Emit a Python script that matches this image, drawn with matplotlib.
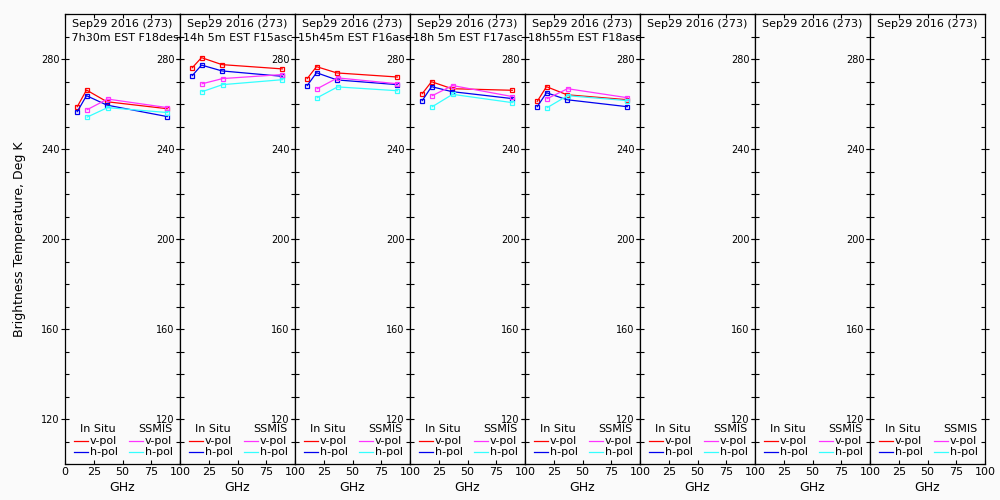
import matplotlib
matplotlib.use("Agg")
import matplotlib.pyplot as plt
from matplotlib.ticker import MultipleLocator

# ---- data ----
date_label = "Sep29 2016 (273)"
pass_labels = [" 7h30m EST F18desc", "14h 5m EST F15asc", "15h45m EST F16asc",
               "18h 5m EST F17asc", "18h55m EST F18asc", "", "", ""]
insitu_freq = [10.65, 18.7, 36.5, 89.0]
ssmis_freq = [19.35, 37.0, 89.0]

insitu_v = [
    [258.8, 266.2, 261.0, 257.9],
    [276.1, 280.6, 277.5, 275.6],
    [271.3, 276.6, 273.8, 272.0],
    [264.6, 269.9, 266.8, 266.1],
    [261.2, 267.7, 264.1, 261.9],
]
insitu_h = [
    [256.6, 263.7, 259.5, 254.4],
    [272.6, 277.3, 274.7, 272.3],
    [268.2, 273.9, 270.7, 268.6],
    [261.5, 267.7, 265.5, 262.4],
    [258.8, 265.0, 261.9, 258.8],
]
ssmis_v = [
    [257.5, 262.2, 258.4],
    [269.0, 271.3, 273.1],
    [266.8, 271.6, 269.0],
    [263.7, 268.2, 263.3],
    [262.4, 266.8, 262.8],
]
ssmis_h = [
    [254.2, 258.4, 256.2],
    [265.5, 268.6, 270.8],
    [262.8, 267.6, 265.9],
    [258.8, 264.3, 260.6],
    [258.4, 263.7, 261.5],
]
x_ticks = [0, 25, 50, 75, 100]
y_ticks = [120, 160, 200, 240, 280]

# ---- style ----
C_RED, C_BLUE, C_MAG, C_CYAN = "#ff0000", "#0000ee", "#ff33ff", "#33ffff"
BG = "#fafafa"
plt.rcParams['font.family'] = ['DejaVu Sans']

fig = plt.figure(figsize=(10, 5), dpi=100, facecolor=BG)
n_panels = 8
left0, pw = 0.065, 0.115
bottom, ph = 0.072, 0.9

for i in range(n_panels):
    ax = fig.add_axes([left0 + i * pw, bottom, pw, ph], facecolor=BG)
    ax.set_xlim(0, 100)
    ax.set_ylim(100, 300)
    for s in ax.spines.values():
        s.set_linewidth(0.9)
        s.set_color("black")
    ax.set_xticks(x_ticks)
    # the leading "0" coincides with the previous panel's "100"
    xlabels = [str(t) for t in x_ticks]
    if i > 0:
        xlabels[0] = ""
    ax.set_xticklabels(xlabels)
    ax.set_yticks(y_ticks)
    ax.yaxis.set_minor_locator(MultipleLocator(10))
    ax.tick_params(axis='y', which='major', direction='inout', length=6, width=0.8,
                   left=True, right=True, labelsize=7, pad=1)
    ax.tick_params(axis='y', which='minor', direction='in', length=3, width=0.8,
                   left=True, right=True)
    ax.tick_params(axis='x', which='major', direction='in', length=3, width=0.8,
                   top=True, bottom=True, labelsize=8, pad=2)
    ax.set_xlabel("GHz", fontsize=9, labelpad=3)

    if i < len(insitu_v):
        lw, ms, mew = 0.9, 3.2, 0.9
        ax.plot(insitu_freq, insitu_v[i], color=C_RED, lw=lw, marker='s', ms=ms,
                mfc='none', mew=mew)
        ax.plot(insitu_freq, insitu_h[i], color=C_BLUE, lw=lw, marker='s', ms=ms,
                mfc='none', mew=mew)
        ax.plot(ssmis_freq, ssmis_v[i], color=C_MAG, lw=lw, marker='s', ms=ms,
                mfc='none', mew=mew)
        ax.plot(ssmis_freq, ssmis_h[i], color=C_CYAN, lw=lw, marker='s', ms=ms,
                mfc='none', mew=mew)

    # header texts
    ax.text(0.058, 0.978, date_label, transform=ax.transAxes, fontsize=8,
            ha='left', va='center', clip_on=True)
    if pass_labels[i]:
        ax.text(0.026, 0.947, pass_labels[i], transform=ax.transAxes, fontsize=8,
                ha='left', va='center', clip_on=True)

    # legend block
    tr = ax.transAxes
    ax.text(0.13, 0.078, "In Situ", transform=tr, fontsize=8, ha='left', va='center')
    ax.text(0.635, 0.078, "SSMIS", transform=tr, fontsize=8, ha='left', va='center')
    ax.plot([0.078, 0.20], [0.051, 0.051], transform=tr, color=C_RED, lw=0.9)
    ax.plot([0.078, 0.20], [0.027, 0.027], transform=tr, color=C_BLUE, lw=0.9)
    ax.plot([0.557, 0.678], [0.051, 0.051], transform=tr, color=C_MAG, lw=0.9)
    ax.plot([0.557, 0.678], [0.027, 0.027], transform=tr, color=C_CYAN, lw=0.9)
    ax.text(0.217, 0.051, "v-pol", transform=tr, fontsize=8, ha='left', va='center')
    ax.text(0.217, 0.027, "h-pol", transform=tr, fontsize=8, ha='left', va='center')
    ax.text(0.696, 0.051, "v-pol", transform=tr, fontsize=8, ha='left', va='center')
    ax.text(0.696, 0.027, "h-pol", transform=tr, fontsize=8, ha='left', va='center')

fig.text(0.02, bottom + ph / 2, "Brightness Temperature, Deg K", rotation=90,
         fontsize=9, ha='center', va='center')

fig.savefig("out.png", dpi=100, facecolor=BG)
